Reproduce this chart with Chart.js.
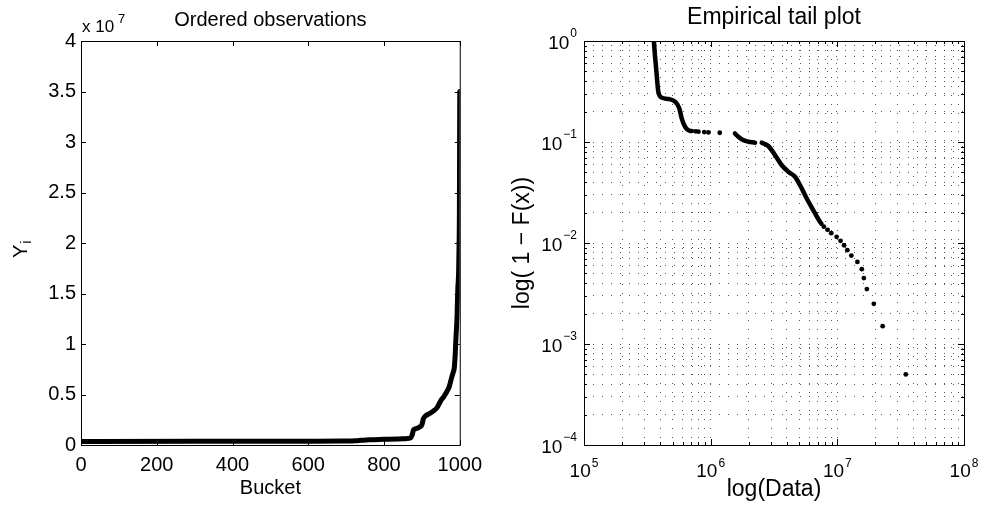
<!DOCTYPE html>
<html><head><meta charset="utf-8">
<script src="https://cdn.jsdelivr.net/npm/chart.js@4.4.1/dist/chart.umd.min.js"></script>
<style>
html,body{margin:0;padding:0;background:#fff;}
#wrap{position:relative;width:981px;height:514px;overflow:hidden;background:#fff;}
.box{position:absolute;top:0;height:514px;}
#b1{left:0;width:490px;}
#b2{left:490px;width:491px;}
</style></head><body>
<div id="wrap"><div class="box" id="b1"><canvas id="c1"></canvas></div><div class="box" id="b2"><canvas id="c2"></canvas></div></div>
<script>
// ---------- Left panel: ordered observations ----------
const bucketIndex = [0, 300, 600, 690, 725, 740, 760, 800, 835, 858, 870, 874, 878, 885, 895, 900, 904, 910, 920, 930, 940, 950, 958, 966, 972, 978, 982, 985, 986, 987, 988, 989, 990, 991, 992, 993, 994, 995, 996, 997, 998, 999, 1000];
const orderedValues = [3.57e5, 3.6e5, 3.7e5, 3.85e5, 4.1e5, 4.6e5, 5.2e5, 5.6e5, 5.9e5, 6.3e5, 6.9e5, 9.5e5, 1.5e6, 1.62e6, 1.8e6, 2.0e6, 2.6e6, 2.9e6, 3.1e6, 3.35e6, 3.7e6, 4.4e6, 4.8e6, 5.3e6, 5.75e6, 6.6e6, 7.1e6, 7.5e6, 7.83e6, 8.38e6, 8.95e6, 9.87e6, 1.06e7, 1.13e7, 1.20e7, 1.29e7, 1.44e7, 1.56e7, 1.62e7, 1.71e7, 1.94e7, 2.28e7, 3.5e7];
const bucketTicks = [0, 200, 400, 600, 800, 1000];
const valueTicks = [0, 0.5e7, 1e7, 1.5e7, 2e7, 2.5e7, 3e7, 3.5e7, 4e7];

// ---------- Right panel: empirical tail (1 - F(x)) ----------
const tailSegA_x = [3.56e5, 3.63e5, 3.75e5, 3.86e5, 4.11e5, 4.63e5, 5.23e5, 5.65e5, 5.90e5, 6.27e5, 6.87e5, 7.1e5];
const tailSegA_y = [1.0, 0.727, 0.461, 0.315, 0.275, 0.267, 0.251, 0.216, 0.172, 0.142, 0.129, 0.1285];
const tailDotsMid_x = [7.6e5, 8.0e5, 8.9e5, 9.6e5, 1.18e6];
const tailDotsMid_y = [0.1275, 0.1265, 0.1255, 0.1245, 0.1235];
const tailSegB_x = [1.555e6, 1.643e6, 1.77e6, 1.97e6, 2.24e6];
const tailSegB_y = [0.1215, 0.1133, 0.106, 0.101, 0.0985];
const tailSegC_x = [2.53e6, 2.85e6, 3.22e6, 3.63e6, 4.10e6, 4.63e6, 5.07e6, 5.72e6, 6.45e6, 7.29e6, 7.5e6];
const tailSegC_y = [0.0985, 0.0913, 0.0743, 0.0592, 0.0508, 0.0453, 0.0375, 0.0277, 0.0212, 0.01625, 0.0155];
const tailDotsEnd_x = [7.83e6, 8.38e6, 8.95e6, 9.87e6, 1.06e7, 1.13e7, 1.20e7, 1.29e7, 1.44e7, 1.56e7, 1.62e7, 1.71e7, 1.94e7, 2.28e7, 3.47e7];
const tailDotsEnd_y = [0.0145, 0.0135, 0.0125, 0.0115, 0.0105, 0.0095, 0.0085, 0.0075, 0.0065, 0.0055, 0.0045, 0.0035, 0.0025, 0.0015, 0.0005];
const tailXTickExps = [5, 6, 7, 8];
const tailYTickExps = [0, -1, -2, -3, -4];

const leftTitle = 'Ordered observations';
const rightTitle = 'Empirical tail plot';

const FONT = "'Liberation Sans', Arial, Helvetica, sans-serif";
Chart.defaults.font.family = FONT;
Chart.defaults.color = '#000';

function pts(xs, ys) { return xs.map((v, i) => ({x: v, y: ys[i]})); }
function minorTicks(exps) {
  const out = [];
  const lo = Math.min(...exps), hi = Math.max(...exps);
  for (let e = lo; e < hi; e++) for (let m = 1; m <= 9; m++) out.push(m * Math.pow(10, e));
  out.push(Math.pow(10, hi));
  return out;
}
function crisp(v) { return Math.round(v) + 0.5; }

// ---------- Left chart ----------
const leftDeco = {
  id: 'leftDeco',
  afterDraw(chart) {
    const {ctx, chartArea: a, scales: {x, y}} = chart;
    ctx.save();
    ctx.strokeStyle = '#000'; ctx.lineWidth = 1;
    ctx.strokeRect(a.left + 0.5, a.top + 0.5, a.right - a.left, a.bottom - a.top);
    ctx.beginPath();
    bucketTicks.forEach(v => {
      const px = crisp(x.getPixelForValue(v));
      ctx.moveTo(px, a.bottom); ctx.lineTo(px, a.bottom - 5);
      ctx.moveTo(px, a.top); ctx.lineTo(px, a.top + 5);
    });
    valueTicks.forEach(v => {
      const py = crisp(y.getPixelForValue(v));
      ctx.moveTo(a.left, py); ctx.lineTo(a.left + 5, py);
      ctx.moveTo(a.right, py); ctx.lineTo(a.right - 5, py);
    });
    ctx.stroke();
    ctx.fillStyle = '#000';
    // title
    ctx.textAlign = 'center'; ctx.textBaseline = 'alphabetic';
    ctx.font = "20px " + FONT;
    ctx.fillText(leftTitle, (a.left + a.right) / 2, 26);
    // exponent label
    ctx.textAlign = 'left';
    ctx.font = "17px " + FONT;
    ctx.fillText('x 10', 82, 32);
    ctx.font = "13px " + FONT;
    ctx.fillText('7', 118, 23);
    // Y_i axis label
    ctx.translate(27, 258);
    ctx.rotate(-Math.PI / 2);
    ctx.font = "20px " + FONT;
    ctx.fillText('Y', 0, 0);
    const wy = ctx.measureText('Y').width;
    ctx.font = "14px " + FONT;
    ctx.fillText('i', wy + 1, 4);
    ctx.restore();
  }
};

new Chart(document.getElementById('c1'), {
  type: 'scatter',
  data: { datasets: [{
    data: pts(bucketIndex, orderedValues),
    showLine: true, borderColor: '#000', borderWidth: 5, pointRadius: 0,
    cubicInterpolationMode: 'monotone', borderJoinStyle: 'round', borderCapStyle: 'round', fill: false
  }]},
  options: {
    responsive: true, maintainAspectRatio: false, animation: false,
    layout: { padding: { left: 0, right: 29, top: 41, bottom: 0 } },
    plugins: { legend: { display: false }, tooltip: { enabled: false }, title: { display: false } },
    scales: {
      x: {
        type: 'linear', min: 0, max: 1000,
        afterBuildTicks: s => { s.ticks = bucketTicks.map(v => ({value: v})); },
        afterFit: s => { s.height = 69; },
        grid: { display: false, drawTicks: false }, border: { display: false },
        ticks: { color: '#000', font: { family: FONT, size: 20 }, padding: 8, maxRotation: 0, autoSkip: false,
                 callback: v => String(v) },
        title: { display: true, text: 'Bucket', color: '#000', font: { family: FONT, size: 20, lineHeight: 1.2 }, padding: { top: 0, bottom: 14 } }
      },
      y: {
        type: 'linear', min: 0, max: 4e7,
        afterBuildTicks: s => { s.ticks = valueTicks.map(v => ({value: v})); },
        afterFit: s => { s.width = 81; },
        grid: { display: false, drawTicks: false }, border: { display: false },
        ticks: { color: '#000', font: { family: FONT, size: 20 }, padding: 5, autoSkip: false,
                 callback: v => String(Math.round(v / 1e6) / 10) }
      }
    }
  },
  plugins: [leftDeco]
});

// ---------- Right chart ----------
const rightDeco = {
  id: 'rightDeco',
  afterDraw(chart) {
    const {ctx, chartArea: a, scales: {x, y}} = chart;
    ctx.save();
    ctx.strokeStyle = '#000'; ctx.lineWidth = 1;
    ctx.strokeRect(a.left + 0.5, a.top + 0.5, a.right - a.left, a.bottom - a.top);
    ctx.beginPath();
    const majX = tailXTickExps.map(e => Math.pow(10, e));
    const majY = tailYTickExps.map(e => Math.pow(10, e));
    minorTicks(tailXTickExps).forEach(v => {
      const isMaj = majX.some(m => Math.abs(m - v) / m < 1e-9);
      const L = isMaj ? 6 : 3;
      const px = crisp(x.getPixelForValue(v));
      ctx.moveTo(px, a.bottom); ctx.lineTo(px, a.bottom - L);
      ctx.moveTo(px, a.top); ctx.lineTo(px, a.top + L);
    });
    minorTicks(tailYTickExps).forEach(v => {
      const isMaj = majY.some(m => Math.abs(m - v) / m < 1e-9);
      const L = isMaj ? 6 : 3;
      const py = crisp(y.getPixelForValue(v));
      ctx.moveTo(a.left, py); ctx.lineTo(a.left + L, py);
      ctx.moveTo(a.right, py); ctx.lineTo(a.right - L, py);
    });
    ctx.stroke();
    ctx.fillStyle = '#000';
    // title
    ctx.textAlign = 'center'; ctx.textBaseline = 'alphabetic';
    ctx.font = "23px " + FONT;
    ctx.fillText(rightTitle, (a.left + a.right) / 2, 24);
    // tick labels with superscript exponents
    ctx.textAlign = 'left';
    const big = "19px " + FONT, small = "12px " + FONT;
    const expStr = e => (e < 0 ? '\u2212' + Math.abs(e) : String(e));
    tailXTickExps.forEach(e => {
      const px = x.getPixelForValue(Math.pow(10, e));
      ctx.font = big; const w10 = ctx.measureText('10').width;
      ctx.font = small; const we = ctx.measureText(expStr(e)).width;
      const start = px - (w10 + 1 + we) / 2;
      ctx.font = big; ctx.fillText('10', start, a.bottom + 32);
      ctx.font = small; ctx.fillText(expStr(e), start + w10 + 1, a.bottom + 22);
    });
    tailYTickExps.forEach(e => {
      const py = y.getPixelForValue(Math.pow(10, e));
      ctx.font = big; const w10 = ctx.measureText('10').width;
      ctx.font = small; const we = ctx.measureText(expStr(e)).width;
      const start = a.left - 7 - we - 1 - w10;
      ctx.font = big; ctx.fillText('10', start, py + 8);
      ctx.font = small; ctx.fillText(expStr(e), start + w10 + 1, py - 4.5);
    });
    ctx.restore();
  }
};

const segStyle = { showLine: true, borderColor: '#000', borderWidth: 4.5, pointRadius: 0,
                   borderJoinStyle: 'round', borderCapStyle: 'round', cubicInterpolationMode: 'monotone', fill: false };
const dotStyle = { showLine: false, pointRadius: 2.4, pointBackgroundColor: '#000', pointBorderWidth: 0, borderColor: '#000' };

new Chart(document.getElementById('c2'), {
  type: 'scatter',
  data: { datasets: [
    Object.assign({ data: pts(tailSegA_x, tailSegA_y) }, segStyle),
    Object.assign({ data: pts(tailDotsMid_x, tailDotsMid_y) }, dotStyle),
    Object.assign({ data: pts(tailSegB_x, tailSegB_y) }, segStyle),
    Object.assign({ data: pts(tailSegC_x, tailSegC_y) }, segStyle),
    Object.assign({ data: pts(tailDotsEnd_x, tailDotsEnd_y) }, dotStyle)
  ]},
  options: {
    responsive: true, maintainAspectRatio: false, animation: false,
    layout: { padding: { left: 0, right: 17, top: 41, bottom: 0 } },
    plugins: { legend: { display: false }, tooltip: { enabled: false }, title: { display: false } },
    scales: {
      x: {
        type: 'logarithmic', min: 1e5, max: 1e8,
        afterBuildTicks: s => { s.ticks = minorTicks(tailXTickExps).map(v => ({value: v})); },
        afterFit: s => { s.height = 69; },
        grid: { display: true, drawTicks: false, color: 'rgba(0,0,0,0.65)', lineWidth: 1 },
        border: { display: false, dash: [1, 8] },
        ticks: { display: false },
        title: { display: true, text: 'log(Data)', color: '#000', font: { family: FONT, size: 23, lineHeight: 1.2 }, padding: { top: 0, bottom: 11 } }
      },
      y: {
        type: 'logarithmic', min: 1e-4, max: 1,
        afterBuildTicks: s => { s.ticks = minorTicks(tailYTickExps).map(v => ({value: v})); },
        afterFit: s => { s.width = 94; },
        grid: { display: true, drawTicks: false, color: 'rgba(0,0,0,0.65)', lineWidth: 1 },
        border: { display: false, dash: [1, 8] },
        ticks: { display: false },
        title: { display: true, text: 'log( 1 \u2212 F(x))', color: '#000', font: { family: FONT, size: 23, lineHeight: 1.2 }, padding: { top: 18.5, bottom: 0 } }
      }
    }
  },
  plugins: [rightDeco]
});
</script>
</body></html>
